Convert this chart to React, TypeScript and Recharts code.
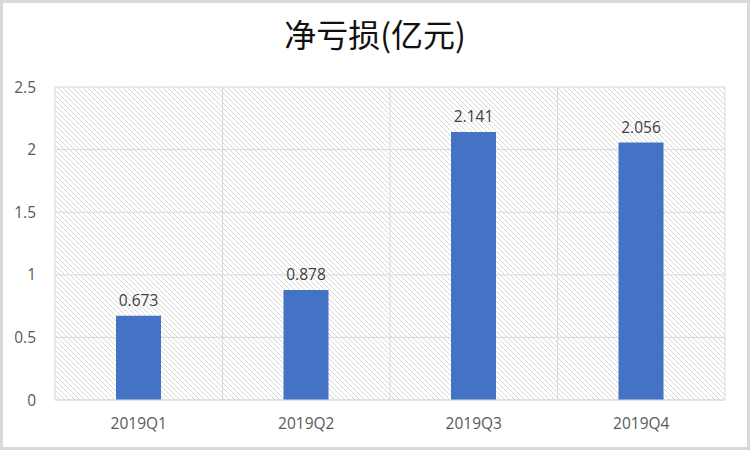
import React from "react";
import { BarChart, Bar, XAxis, YAxis, CartesianGrid, LabelList } from "recharts";

const quarters = ["2019Q1", "2019Q2", "2019Q3", "2019Q4"];
const netLoss = [0.673, 0.878, 2.141, 2.056];
const yTicks = [0, 0.5, 1, 1.5, 2, 2.5];

const data = quarters.map((q, i) => ({ name: q, value: netLoss[i] }));

const labelFont = "'Open Sans', sans-serif";

const App: React.FC = () => {
  return (
    <div
      style={{
        position: "fixed",
        left: 0,
        top: 0,
        width: 750,
        height: 450,
        background: "#fff",
        border: "3px solid #d9d9d9",
        boxSizing: "border-box",
      }}
    >
      <div
        style={{
          position: "absolute",
          left: 0,
          top: 10,
          width: 744,
          textAlign: "center",
          fontFamily: "'Noto Sans CJK SC', sans-serif",
          fontSize: 32,
          lineHeight: "40px",
          color: "#111",
        }}
      >
        净亏损(亿元)
      </div>
      <div style={{ position: "absolute", left: -3, top: -3 }}>
        <BarChart
          width={750}
          height={450}
          data={data}
          margin={{ top: 87, right: 25, bottom: 0, left: 0 }}
          barSize={45}
        >
          <defs>
            <pattern id="hatch" width="5" height="5" patternUnits="userSpaceOnUse">
              <path
                d="M0,0 L5,5 M-1,4 L1,6 M4,-1 L6,1"
                stroke="#d4d4d4"
                strokeWidth={0.9}
              />
            </pattern>
          </defs>
          <CartesianGrid
            fill="url(#hatch)"
            stroke="#d9d9d9"
            strokeDasharray=""
            verticalCoordinatesGenerator={({ offset }: any) =>
              [0, 1, 2, 3, 4].map((i) => offset.left + (i * offset.width) / 4)
            }
          />
          <XAxis
            dataKey="name"
            height={50}
            axisLine={{ stroke: "#d9d9d9" }}
            tickLine={false}
            tickMargin={12}
            tick={{ fill: "#595959", fontSize: 15.5, fontFamily: labelFont }}
          />
          <YAxis
            width={55}
            domain={[0, 2.5]}
            ticks={yTicks}
            axisLine={false}
            tickLine={false}
            tickMargin={13}
            tick={{ fill: "#595959", fontSize: 15.5, fontFamily: labelFont }}
          />
          <Bar dataKey="value" fill="#4472C4" isAnimationActive={false}>
            <LabelList
              dataKey="value"
              position="top"
              offset={10}
              style={{ fill: "#404040", fontSize: 15.5, fontFamily: labelFont }}
            />
          </Bar>
        </BarChart>
      </div>
    </div>
  );
};

export default App;
